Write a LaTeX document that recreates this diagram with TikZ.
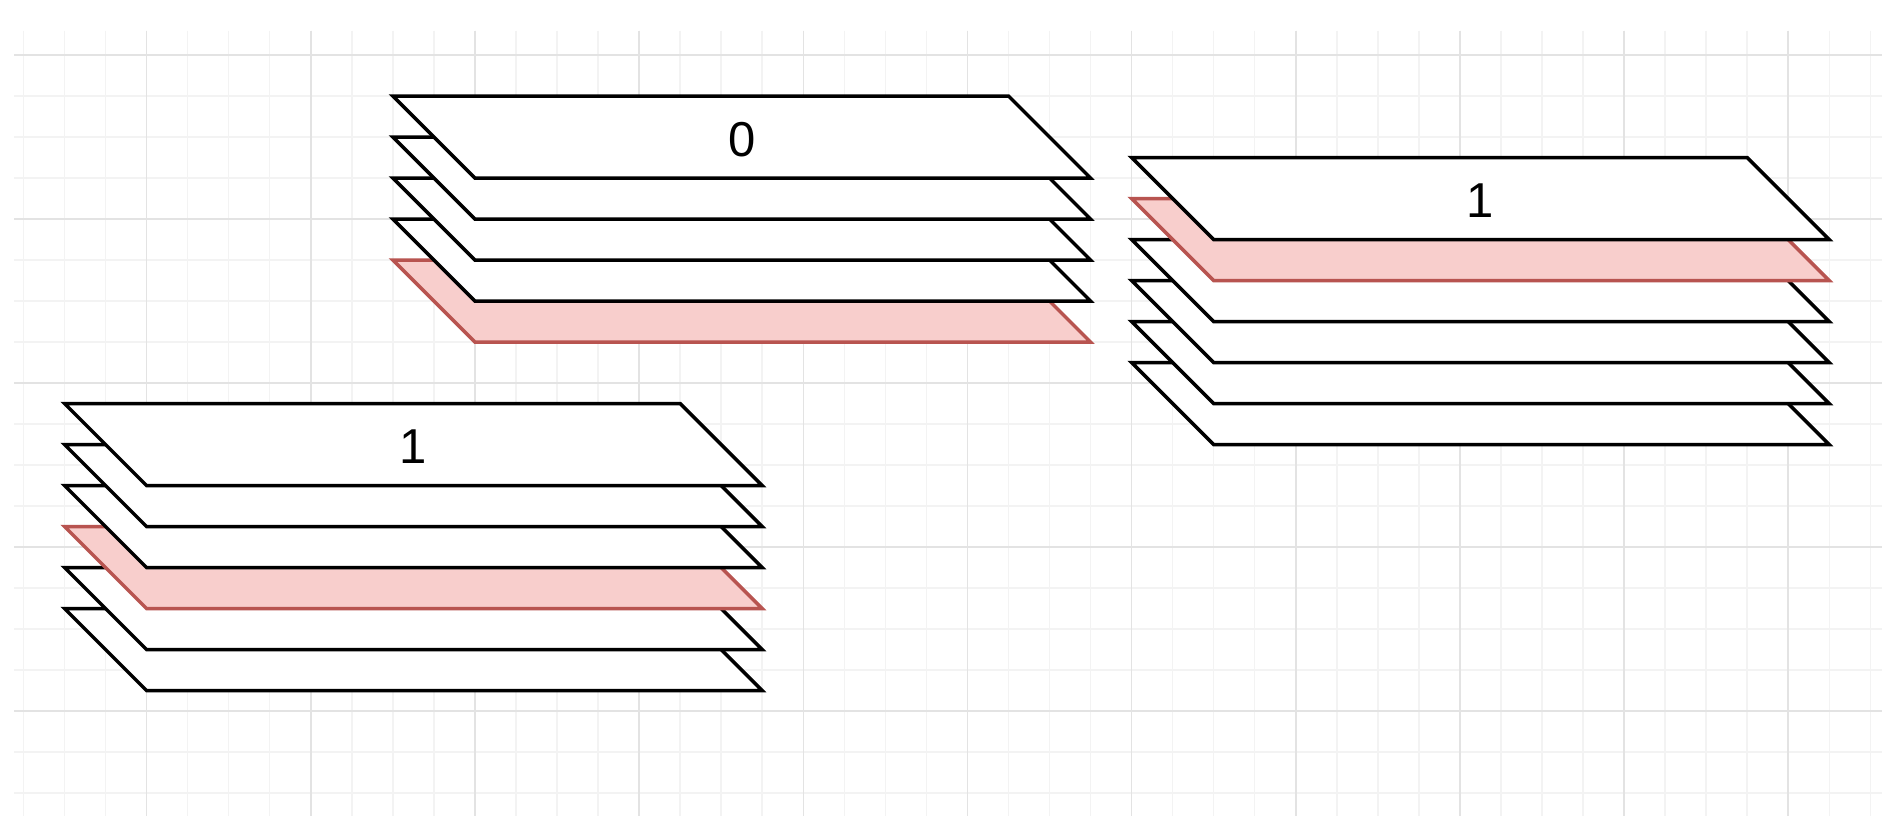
\documentclass[tikz,border=0pt]{standalone}
\usepackage{fontspec}
\setmainfont{Liberation Sans}
\definecolor{redfill}{HTML}{F8CECC}
\definecolor{redline}{HTML}{B85450}
\definecolor{gridminor}{HTML}{F3F3F3}
\definecolor{gridmajor}{HTML}{E3E3E3}
\tikzset{
  minorline/.style={draw=gridminor, line width=1.5pt},
  majorline/.style={draw=gridmajor, line width=1.5pt},
  plateplain/.style={draw=black, fill=white, line width=3.5pt},
  platered/.style={draw=redline, fill=redfill, line width=3.5pt},
  platelabel/.style={font=\fontsize{49}{59}\selectfont, inner sep=0pt},
}
\newcommand{\drawplate}[3]{\draw[#3] (#1,#2) -- ++(615.6,0) -- ++(82,82) -- ++(-615.6,0) -- cycle;}
\begin{document}
\begin{tikzpicture}[x=1pt,y=-1pt]
\useasboundingbox (0,0) rectangle (1882,816);
\fill[white] (0,0) rectangle (1882,816);
% grid
\foreach \i in {0,...,45} \draw[minorline] ({23.5+\i*41.04},30.7) -- ({23.5+\i*41.04},816);
\foreach \j in {1,...,19} \draw[minorline] (14,{14+\j*41}) -- (1882,{14+\j*41});
\foreach \i in {3,7,...,43} \draw[majorline] ({23.5+\i*41.04},30.7) -- ({23.5+\i*41.04},816);
\foreach \j in {1,5,...,17} \draw[majorline] (14,{14+\j*41}) -- (1882,{14+\j*41});
% stack "0" (top middle)
\drawplate{392.9}{260}{platered}
\drawplate{392.9}{219}{plateplain}
\drawplate{392.9}{178}{plateplain}
\drawplate{392.9}{137}{plateplain}
\drawplate{392.9}{96}{plateplain}
\node[platelabel] (zero) at (741.7,139.5) {0};
% stack "1" (right)
\drawplate{1131.6}{362.5}{plateplain}
\drawplate{1131.6}{321.5}{plateplain}
\drawplate{1131.6}{280.5}{plateplain}
\drawplate{1131.6}{239.5}{plateplain}
\drawplate{1131.6}{198.5}{platered}
\drawplate{1131.6}{157.5}{plateplain}
\node[platelabel] (oneright) at (1480.4,201) {1};
% stack "1" (left)
\drawplate{64.5}{608.5}{plateplain}
\drawplate{64.5}{567.5}{plateplain}
\drawplate{64.5}{526.5}{platered}
\drawplate{64.5}{485.5}{plateplain}
\drawplate{64.5}{444.5}{plateplain}
\drawplate{64.5}{403.5}{plateplain}
\node[platelabel] (oneleft) at (413.3,447) {1};
\end{tikzpicture}
\end{document}
